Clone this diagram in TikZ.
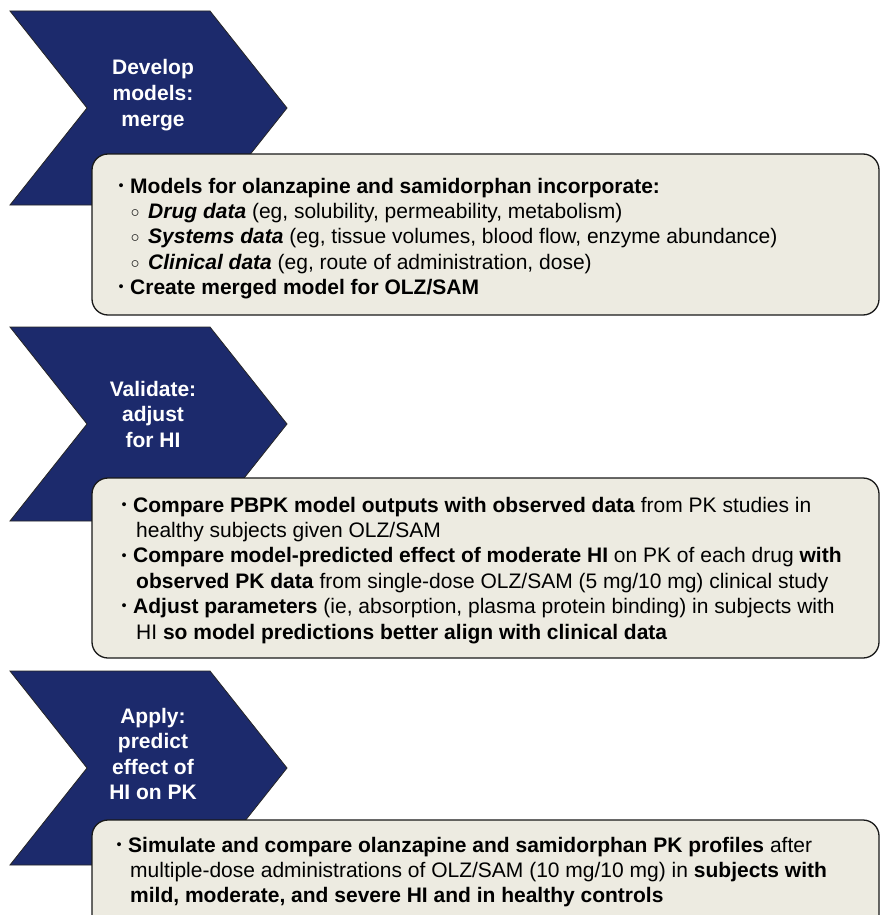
\documentclass[tikz,border=0pt]{standalone}
\usepackage{fontspec}
\setmainfont{Liberation Sans}
\definecolor{navy}{RGB}{28,42,108}
\definecolor{cream}{RGB}{237,235,225}
\newcommand\dotmark{\raisebox{2.8pt}{\fontsize{14.5}{14.5}\selectfont •}}
\newcommand\mybul{\makebox[11pt][l]{\hspace*{-0.5pt}\dotmark}}
\newcommand\mysub{\hspace*{11.5pt}\makebox[17.5pt][l]{\raisebox{1.2pt}{\fontsize{15}{15}\selectfont ○}}}
\begin{document}
\begin{tikzpicture}[x=1pt,y=-1pt,
  chevron/.style={fill=navy,draw=black!85,line width=0.8pt,line join=miter},
  infobox/.style={fill=cream,draw=black!90,line width=1.3pt,rounded corners=16pt},
  chevtext/.style={inner sep=0pt,anchor=base,text=white,font=\fontsize{21}{25.6}\selectfont\bfseries},
  boxtext/.style={inner sep=0pt,anchor=base west,font=\fontsize{21}{25.4}\selectfont}]
\useasboundingbox (0,0) rectangle (880,915);
\begin{scope}
\clip (0,0) rectangle (880,915);
% chevrons
\foreach \dy/\nm in {0/c1,316/c2,660/c3}{
  \draw[chevron] (10,11+\dy) -- (210,11+\dy) -- (287,108+\dy) -- (210,205+\dy) -- (10,205+\dy) -- (87,108+\dy) -- cycle;
}
% boxes
\draw[infobox] (92,154) rectangle (879,315);
\draw[infobox] (92,478) rectangle (879,658);
\draw[infobox] (92,820) rectangle (879,940);
\end{scope}
% chevron texts
\node[chevtext] (t1) at (153,75) {\parbox[t]{140pt}{\centering Develop\\models:\\merge}};
\node[chevtext] (t2) at (153,396) {\parbox[t]{140pt}{\centering Validate:\\adjust\\for HI}};
\node[chevtext] (t3) at (153,723) {\parbox[t]{140pt}{\centering Apply:\\predict\\effect of\\HI on PK}};
% box texts
\node[boxtext] (b1) at (119,193) {\parbox[t]{760pt}{%
\mybul\textbf{Models for olanzapine and samidorphan incorporate:}\\
\mysub\textbf{\textit{Drug data}} (eg, solubility, permeability, metabolism)\\
\mysub\textbf{\textit{Systems data}} (eg, tissue volumes, blood flow, enzyme abundance)\\
\mysub\textbf{\textit{Clinical data}} (eg, route of administration, dose)\\
\mybul\textbf{Create merged model for OLZ/SAM}}};
\node[boxtext] (b2) at (122,512) {\parbox[t]{760pt}{%
\mybul\textbf{Compare PBPK model outputs with observed data} from PK studies in\\
\hspace*{14pt}healthy subjects given OLZ/SAM\\
\mybul\textbf{Compare model-predicted effect of moderate HI} on PK of each drug \textbf{with}\\
\hspace*{14pt}\textbf{observed PK data} from single-dose OLZ/SAM (5 mg/10 mg) clinical study\\
\mybul\textbf{Adjust parameters} (ie, absorption, plasma protein binding) in subjects with\\
\hspace*{14pt}HI \textbf{so model predictions better align with clinical data}}};
\node[boxtext] (b3) at (117,852) {\parbox[t]{760pt}{%
\mybul\textbf{Simulate and compare olanzapine and samidorphan PK profiles} after\\
\hspace*{13pt}multiple-dose administrations of OLZ/SAM (10 mg/10 mg) in \textbf{subjects with}\\
\hspace*{13pt}\textbf{mild, moderate, and severe HI and in healthy controls}}};
\end{tikzpicture}
\end{document}
